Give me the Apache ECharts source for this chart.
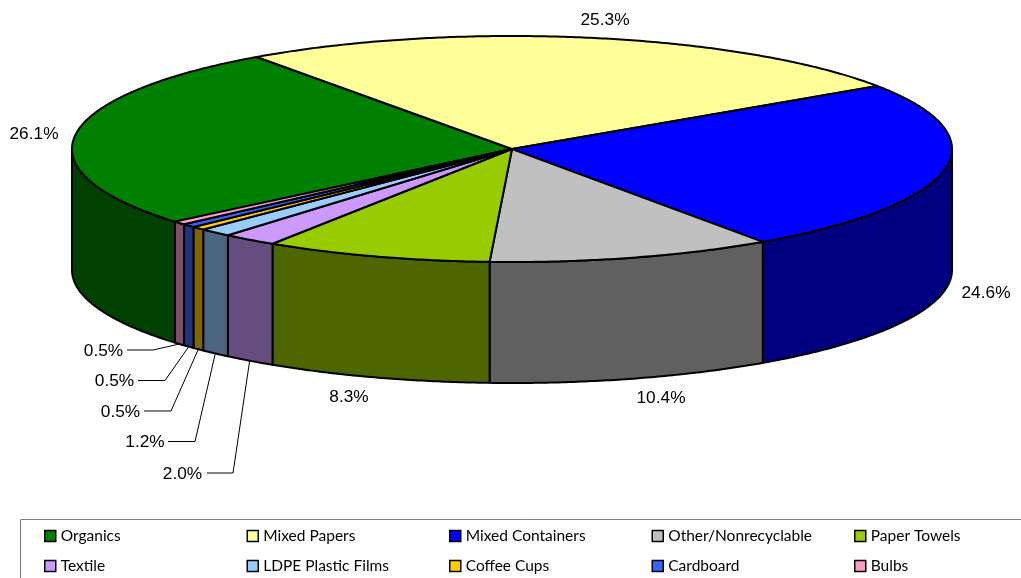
<!DOCTYPE html>
<html>
<head>
<meta charset="utf-8">
<style>
  html, body { margin: 0; padding: 0; background: #fff; }
  #main { width: 1021px; height: 578px; }
</style>
<script src="https://cdn.jsdelivr.net/npm/echarts@6/dist/echarts.min.js"></script>
</head>
<body>
<div id="main"></div>
<script>
// values, in percent
var categories = ['Organics', 'Mixed Papers', 'Mixed Containers', 'Other/Nonrecyclable', 'Paper Towels',
  'Textile', 'LDPE Plastic Films', 'Coffee Cups', 'Cardboard', 'Bulbs'];
var values = [26.1, 25.3, 24.6, 10.4, 8.3, 2.0, 1.2, 0.5, 0.5, 0.5];

var topColors = ['#008000', '#FFFF99', '#0000FF', '#C0C0C0', '#99CC00',
  '#CC99FF', '#99CCFF', '#FFCC00', '#3366FF', '#FF99CC'];
var wallColors = ['#004000', '#80804D', '#000080', '#606060', '#4D6600',
  '#664D80', '#4D6680', '#806600', '#1F3380', '#804D66'];

// where the percent labels sit
var labelX = [34, 605, 986, 661, 349, 182.5, 145, 120.5, 114.5, 103.5];
var labelY = [133, 19, 292, 397, 396, 473, 441.5, 411, 380.5, 350];
// leader lines: start of the line and x of the elbow, only for the thin slices
var leaderStartX = [null, null, null, null, null, 207, 168, 144, 138, 127];
var leaderElbowX = [null, null, null, null, null, 233, 195, 171, 165, 153];

// the flattened pie
var cx = 512, cy = 149, rx = 440, ry = 113, depth = 121;
var startAngle = 230;

var total = 0;
for (var k = 0; k < values.length; k++) total += values[k];

function sliceAngles(i) {
  var before = 0;
  for (var j = 0; j < i; j++) before += values[j];
  var a0 = startAngle + before / total * 360;
  return [a0, a0 + values[i] / total * 360];
}

// angle is clockwise from the top of the ellipse
function rimPoint(angle, drop) {
  var t = angle * Math.PI / 180;
  return [cx + rx * Math.sin(t), cy - ry * Math.cos(t) + drop];
}

function arcPoints(a0, a1, drop) {
  var pts = [];
  var n = Math.max(2, Math.ceil(Math.abs(a1 - a0) * 2));
  for (var s = 0; s <= n; s++) pts.push(rimPoint(a0 + (a1 - a0) * s / n, drop));
  return pts;
}

// the front of the cylinder is 90..270 (and 450..630 once past a full turn)
function frontPart(a0, a1) {
  var ranges = [[90, 270], [450, 630]];
  for (var r = 0; r < ranges.length; r++) {
    var from = Math.max(a0, ranges[r][0]);
    var to = Math.min(a1, ranges[r][1]);
    if (to > from) return [from, to];
  }
  return null;
}

function renderSlice(params, api) {
  var i = params.seriesIndex;
  var angles = sliceAngles(i);
  var children = [];

  var front = frontPart(angles[0], angles[1]);
  if (front) {
    var wall = arcPoints(front[0], front[1], 0).concat(arcPoints(front[1], front[0], depth));
    children.push({
      type: 'polygon',
      shape: { points: wall },
      style: { fill: wallColors[i], stroke: '#000', lineWidth: 2, lineJoin: 'round' }
    });
  }

  children.push({
    type: 'polygon',
    shape: { points: [[cx, cy]].concat(arcPoints(angles[0], angles[1], 0)) },
    style: { fill: topColors[i], stroke: '#000', lineWidth: 2, lineJoin: 'round' }
  });

  if (leaderStartX[i] !== null) {
    var anchor = rimPoint((angles[0] + angles[1]) / 2, depth);
    children.push({
      type: 'polyline',
      shape: { points: [[leaderStartX[i], labelY[i]], [leaderElbowX[i], labelY[i]], anchor] },
      style: { fill: null, stroke: '#000', lineWidth: 1 }
    });
  }

  children.push({
    type: 'text',
    style: {
      x: labelX[i],
      y: labelY[i] + 1,
      text: api.value(0).toFixed(1) + '%',
      fill: '#000',
      font: '17.3px "Liberation Sans", Arial, sans-serif',
      align: 'center',
      verticalAlign: 'middle'
    }
  });

  return { type: 'group', children: children };
}

var chart = echarts.init(document.getElementById('main'), null, { renderer: 'canvas' });

var series = [];
var legends = [];
for (var i = 0; i < categories.length; i++) {
  series.push({
    type: 'custom',
    name: categories[i],
    coordinateSystem: 'none',
    renderItem: renderSlice,
    data: [[values[i]]],
    itemStyle: { color: topColors[i] },
    silent: true,
    animation: false
  });
  // one legend per name, the columns of the picture are evenly spaced
  legends.push({
    left: 44 + (i % 5) * 202.5,
    top: i < 5 ? 528 : 558,
    padding: 0,
    itemWidth: 11,
    itemHeight: 11,
    icon: 'rect',
    selectedMode: false,
    itemStyle: { borderColor: '#000', borderWidth: 1.5 },
    textStyle: { fontFamily: 'Lato, sans-serif', fontSize: 15.5, color: '#000' },
    data: [categories[i]]
  });
}

chart.setOption({
  animation: false,
  backgroundColor: '#fff',
  legend: legends,
  graphic: [{
    // legend frame, runs off the right and bottom of the picture
    type: 'rect',
    silent: true,
    shape: { x: 20.5, y: 519.5, width: 1010, height: 70 },
    style: { fill: null, stroke: '#808080', lineWidth: 1 }
  }],
  series: series
});
</script>
</body>
</html>
